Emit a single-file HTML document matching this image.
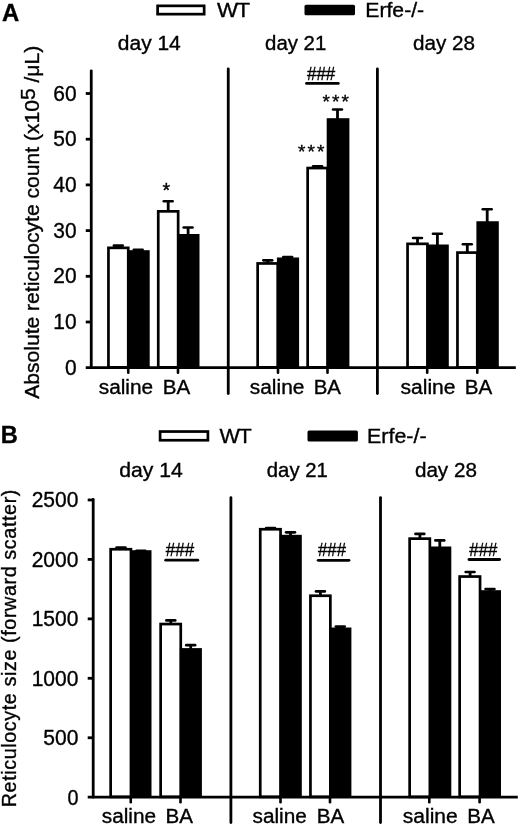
<!DOCTYPE html>
<html><head><meta charset="utf-8"><title>Figure</title>
<style>
html,body{margin:0;padding:0;background:#fff;}
svg{display:block;}
text{font-family:"Liberation Sans",sans-serif;fill:#000;stroke:#000;stroke-width:0.35px;}
</style></head><body>
<svg width="520" height="827" viewBox="0 0 520 827">
<rect x="0" y="0" width="520" height="827" fill="#fff"/>
<rect x="157.60" y="5.85" width="46.55" height="8.30" fill="#fff" stroke="#000" stroke-width="2.7"/>
<rect x="304.5" y="4.7" width="50.5" height="10.6" rx="1.5" fill="#000"/>
<line x1="118.30" y1="247.50" x2="118.30" y2="245.70" stroke="#000" stroke-width="2.8" stroke-linecap="butt"/>
<line x1="113.90" y1="245.70" x2="122.70" y2="245.70" stroke="#000" stroke-width="2.7" stroke-linecap="round"/>
<line x1="138.20" y1="251.20" x2="138.20" y2="249.80" stroke="#000" stroke-width="2.8" stroke-linecap="butt"/>
<line x1="133.80" y1="249.80" x2="142.60" y2="249.80" stroke="#000" stroke-width="2.7" stroke-linecap="round"/>
<rect x="108.45" y="247.85" width="19.80" height="119.50" fill="#fff" stroke="#000" stroke-width="2.7"/>
<rect x="127.40" y="250.20" width="22.30" height="117.50" fill="#000"/>
<line x1="168.20" y1="211.00" x2="168.20" y2="201.25" stroke="#000" stroke-width="2.8" stroke-linecap="butt"/>
<line x1="163.80" y1="201.25" x2="172.60" y2="201.25" stroke="#000" stroke-width="2.7" stroke-linecap="round"/>
<line x1="188.10" y1="235.00" x2="188.10" y2="227.50" stroke="#000" stroke-width="2.8" stroke-linecap="butt"/>
<line x1="183.70" y1="227.50" x2="192.50" y2="227.50" stroke="#000" stroke-width="2.7" stroke-linecap="round"/>
<rect x="158.25" y="211.35" width="19.90" height="156.00" fill="#fff" stroke="#000" stroke-width="2.7"/>
<rect x="177.30" y="234.00" width="22.20" height="133.70" fill="#000"/>
<line x1="267.80" y1="263.10" x2="267.80" y2="260.30" stroke="#000" stroke-width="2.8" stroke-linecap="butt"/>
<line x1="263.40" y1="260.30" x2="272.20" y2="260.30" stroke="#000" stroke-width="2.7" stroke-linecap="round"/>
<line x1="287.70" y1="258.50" x2="287.70" y2="257.10" stroke="#000" stroke-width="2.8" stroke-linecap="butt"/>
<line x1="283.30" y1="257.10" x2="292.10" y2="257.10" stroke="#000" stroke-width="2.7" stroke-linecap="round"/>
<rect x="257.65" y="263.45" width="20.10" height="103.90" fill="#fff" stroke="#000" stroke-width="2.7"/>
<rect x="276.90" y="257.50" width="22.20" height="110.20" fill="#000"/>
<line x1="317.60" y1="167.70" x2="317.60" y2="166.30" stroke="#000" stroke-width="2.8" stroke-linecap="butt"/>
<line x1="313.20" y1="166.30" x2="322.00" y2="166.30" stroke="#000" stroke-width="2.7" stroke-linecap="round"/>
<line x1="337.50" y1="119.20" x2="337.50" y2="109.50" stroke="#000" stroke-width="2.8" stroke-linecap="butt"/>
<line x1="333.10" y1="109.50" x2="341.90" y2="109.50" stroke="#000" stroke-width="2.7" stroke-linecap="round"/>
<rect x="307.65" y="168.05" width="19.90" height="199.30" fill="#fff" stroke="#000" stroke-width="2.7"/>
<rect x="326.70" y="118.20" width="22.70" height="249.50" fill="#000"/>
<line x1="417.50" y1="243.50" x2="417.50" y2="238.00" stroke="#000" stroke-width="2.8" stroke-linecap="butt"/>
<line x1="413.10" y1="238.00" x2="421.90" y2="238.00" stroke="#000" stroke-width="2.7" stroke-linecap="round"/>
<line x1="437.40" y1="245.50" x2="437.40" y2="233.75" stroke="#000" stroke-width="2.8" stroke-linecap="butt"/>
<line x1="433.00" y1="233.75" x2="441.80" y2="233.75" stroke="#000" stroke-width="2.7" stroke-linecap="round"/>
<rect x="407.55" y="243.85" width="19.90" height="123.50" fill="#fff" stroke="#000" stroke-width="2.7"/>
<rect x="426.60" y="244.50" width="22.20" height="123.20" fill="#000"/>
<line x1="467.30" y1="252.25" x2="467.30" y2="244.25" stroke="#000" stroke-width="2.8" stroke-linecap="butt"/>
<line x1="462.90" y1="244.25" x2="471.70" y2="244.25" stroke="#000" stroke-width="2.7" stroke-linecap="round"/>
<line x1="487.20" y1="222.25" x2="487.20" y2="209.25" stroke="#000" stroke-width="2.8" stroke-linecap="butt"/>
<line x1="482.80" y1="209.25" x2="491.60" y2="209.25" stroke="#000" stroke-width="2.7" stroke-linecap="round"/>
<rect x="457.45" y="252.60" width="19.80" height="114.75" fill="#fff" stroke="#000" stroke-width="2.7"/>
<rect x="476.40" y="221.25" width="22.40" height="146.45" fill="#000"/>
<line x1="91.25" y1="70.80" x2="91.25" y2="367.70" stroke="#000" stroke-width="2.8" stroke-linecap="round"/>
<line x1="85.75" y1="367.70" x2="515.80" y2="367.70" stroke="#000" stroke-width="2.8" stroke-linecap="butt"/>
<line x1="85.75" y1="322.00" x2="91.25" y2="322.00" stroke="#000" stroke-width="2.8" stroke-linecap="butt"/>
<line x1="85.75" y1="276.30" x2="91.25" y2="276.30" stroke="#000" stroke-width="2.8" stroke-linecap="butt"/>
<line x1="85.75" y1="230.60" x2="91.25" y2="230.60" stroke="#000" stroke-width="2.8" stroke-linecap="butt"/>
<line x1="85.75" y1="184.90" x2="91.25" y2="184.90" stroke="#000" stroke-width="2.8" stroke-linecap="butt"/>
<line x1="85.75" y1="139.20" x2="91.25" y2="139.20" stroke="#000" stroke-width="2.8" stroke-linecap="butt"/>
<line x1="85.75" y1="93.50" x2="91.25" y2="93.50" stroke="#000" stroke-width="2.8" stroke-linecap="butt"/>
<line x1="228.25" y1="69.00" x2="228.25" y2="393.50" stroke="#000" stroke-width="2.8" stroke-linecap="round"/>
<line x1="377.40" y1="69.00" x2="377.40" y2="393.50" stroke="#000" stroke-width="2.8" stroke-linecap="round"/>
<line x1="128.25" y1="367.70" x2="128.25" y2="372.70" stroke="#000" stroke-width="2.6" stroke-linecap="round"/>
<line x1="178.00" y1="367.70" x2="178.00" y2="372.70" stroke="#000" stroke-width="2.6" stroke-linecap="round"/>
<line x1="278.00" y1="367.70" x2="278.00" y2="372.70" stroke="#000" stroke-width="2.6" stroke-linecap="round"/>
<line x1="327.50" y1="367.70" x2="327.50" y2="372.70" stroke="#000" stroke-width="2.6" stroke-linecap="round"/>
<line x1="427.20" y1="367.70" x2="427.20" y2="372.70" stroke="#000" stroke-width="2.6" stroke-linecap="round"/>
<line x1="477.30" y1="367.70" x2="477.30" y2="372.70" stroke="#000" stroke-width="2.6" stroke-linecap="round"/>
<line x1="306.50" y1="83.40" x2="338.30" y2="83.40" stroke="#000" stroke-width="2.8" stroke-linecap="round"/>
<rect x="160.10" y="431.55" width="47.80" height="8.70" fill="#fff" stroke="#000" stroke-width="2.7"/>
<rect x="307.5" y="430.4" width="50.39999999999998" height="11.000000000000034" rx="1.5" fill="#000"/>
<line x1="121.00" y1="548.90" x2="121.00" y2="547.50" stroke="#000" stroke-width="2.8" stroke-linecap="butt"/>
<line x1="116.60" y1="547.50" x2="125.40" y2="547.50" stroke="#000" stroke-width="2.7" stroke-linecap="round"/>
<line x1="140.90" y1="551.90" x2="140.90" y2="550.90" stroke="#000" stroke-width="2.8" stroke-linecap="butt"/>
<line x1="136.50" y1="550.90" x2="145.30" y2="550.90" stroke="#000" stroke-width="2.7" stroke-linecap="round"/>
<rect x="110.65" y="549.25" width="20.30" height="247.60" fill="#fff" stroke="#000" stroke-width="2.7"/>
<rect x="130.10" y="550.20" width="21.40" height="247.00" fill="#000"/>
<line x1="170.80" y1="623.70" x2="170.80" y2="620.40" stroke="#000" stroke-width="2.8" stroke-linecap="butt"/>
<line x1="166.40" y1="620.40" x2="175.20" y2="620.40" stroke="#000" stroke-width="2.7" stroke-linecap="round"/>
<line x1="190.70" y1="649.10" x2="190.70" y2="645.20" stroke="#000" stroke-width="2.8" stroke-linecap="butt"/>
<line x1="186.30" y1="645.20" x2="195.10" y2="645.20" stroke="#000" stroke-width="2.7" stroke-linecap="round"/>
<rect x="160.65" y="624.05" width="20.10" height="172.80" fill="#fff" stroke="#000" stroke-width="2.7"/>
<rect x="179.90" y="648.10" width="22.00" height="149.10" fill="#000"/>
<line x1="270.60" y1="529.20" x2="270.60" y2="528.20" stroke="#000" stroke-width="2.8" stroke-linecap="butt"/>
<line x1="266.20" y1="528.20" x2="275.00" y2="528.20" stroke="#000" stroke-width="2.7" stroke-linecap="round"/>
<line x1="290.50" y1="535.80" x2="290.50" y2="532.30" stroke="#000" stroke-width="2.8" stroke-linecap="butt"/>
<line x1="286.10" y1="532.30" x2="294.90" y2="532.30" stroke="#000" stroke-width="2.7" stroke-linecap="round"/>
<rect x="260.25" y="529.25" width="20.30" height="267.60" fill="#fff" stroke="#000" stroke-width="2.7"/>
<rect x="279.70" y="534.80" width="22.10" height="262.40" fill="#000"/>
<line x1="320.40" y1="595.40" x2="320.40" y2="591.40" stroke="#000" stroke-width="2.8" stroke-linecap="butt"/>
<line x1="316.00" y1="591.40" x2="324.80" y2="591.40" stroke="#000" stroke-width="2.7" stroke-linecap="round"/>
<line x1="340.30" y1="628.50" x2="340.30" y2="626.60" stroke="#000" stroke-width="2.8" stroke-linecap="butt"/>
<line x1="335.90" y1="626.60" x2="344.70" y2="626.60" stroke="#000" stroke-width="2.7" stroke-linecap="round"/>
<rect x="310.45" y="595.75" width="19.90" height="201.10" fill="#fff" stroke="#000" stroke-width="2.7"/>
<rect x="329.50" y="627.50" width="21.90" height="169.70" fill="#000"/>
<line x1="419.90" y1="538.30" x2="419.90" y2="533.90" stroke="#000" stroke-width="2.8" stroke-linecap="butt"/>
<line x1="415.50" y1="533.90" x2="424.30" y2="533.90" stroke="#000" stroke-width="2.7" stroke-linecap="round"/>
<line x1="439.80" y1="547.50" x2="439.80" y2="540.40" stroke="#000" stroke-width="2.8" stroke-linecap="butt"/>
<line x1="435.40" y1="540.40" x2="444.20" y2="540.40" stroke="#000" stroke-width="2.7" stroke-linecap="round"/>
<rect x="409.65" y="538.65" width="20.20" height="258.20" fill="#fff" stroke="#000" stroke-width="2.7"/>
<rect x="429.00" y="546.50" width="22.30" height="250.70" fill="#000"/>
<line x1="470.10" y1="576.20" x2="470.10" y2="572.00" stroke="#000" stroke-width="2.8" stroke-linecap="butt"/>
<line x1="465.70" y1="572.00" x2="474.50" y2="572.00" stroke="#000" stroke-width="2.7" stroke-linecap="round"/>
<line x1="490.00" y1="591.20" x2="490.00" y2="589.10" stroke="#000" stroke-width="2.8" stroke-linecap="butt"/>
<line x1="485.60" y1="589.10" x2="494.40" y2="589.10" stroke="#000" stroke-width="2.7" stroke-linecap="round"/>
<rect x="459.65" y="576.55" width="20.40" height="220.30" fill="#fff" stroke="#000" stroke-width="2.7"/>
<rect x="479.20" y="590.20" width="21.80" height="207.00" fill="#000"/>
<line x1="93.20" y1="499.35" x2="93.20" y2="797.20" stroke="#000" stroke-width="2.8" stroke-linecap="round"/>
<line x1="87.70" y1="797.20" x2="517.80" y2="797.20" stroke="#000" stroke-width="2.8" stroke-linecap="butt"/>
<line x1="87.70" y1="737.75" x2="93.20" y2="737.75" stroke="#000" stroke-width="2.8" stroke-linecap="butt"/>
<line x1="87.70" y1="678.30" x2="93.20" y2="678.30" stroke="#000" stroke-width="2.8" stroke-linecap="butt"/>
<line x1="87.70" y1="618.85" x2="93.20" y2="618.85" stroke="#000" stroke-width="2.8" stroke-linecap="butt"/>
<line x1="87.70" y1="559.40" x2="93.20" y2="559.40" stroke="#000" stroke-width="2.8" stroke-linecap="butt"/>
<line x1="87.70" y1="499.95" x2="93.20" y2="499.95" stroke="#000" stroke-width="2.8" stroke-linecap="butt"/>
<line x1="230.90" y1="497.55" x2="230.90" y2="822.50" stroke="#000" stroke-width="2.8" stroke-linecap="round"/>
<line x1="380.50" y1="497.55" x2="380.50" y2="822.50" stroke="#000" stroke-width="2.8" stroke-linecap="round"/>
<line x1="130.75" y1="797.20" x2="130.75" y2="802.20" stroke="#000" stroke-width="2.6" stroke-linecap="round"/>
<line x1="180.50" y1="797.20" x2="180.50" y2="802.20" stroke="#000" stroke-width="2.6" stroke-linecap="round"/>
<line x1="280.50" y1="797.20" x2="280.50" y2="802.20" stroke="#000" stroke-width="2.6" stroke-linecap="round"/>
<line x1="330.00" y1="797.20" x2="330.00" y2="802.20" stroke="#000" stroke-width="2.6" stroke-linecap="round"/>
<line x1="429.30" y1="797.20" x2="429.30" y2="802.20" stroke="#000" stroke-width="2.6" stroke-linecap="round"/>
<line x1="479.60" y1="797.20" x2="479.60" y2="802.20" stroke="#000" stroke-width="2.6" stroke-linecap="round"/>
<line x1="165.70" y1="560.20" x2="197.80" y2="560.20" stroke="#000" stroke-width="2.8" stroke-linecap="round"/>
<line x1="318.20" y1="560.30" x2="349.00" y2="560.30" stroke="#000" stroke-width="2.8" stroke-linecap="round"/>
<line x1="469.00" y1="559.50" x2="499.60" y2="559.50" stroke="#000" stroke-width="2.8" stroke-linecap="round"/>
<text transform="translate(2.00,21.30) scale(0.9722,1)" font-size="24.6" font-weight="bold">A</text>
<text transform="translate(216.90,16.50) scale(1.0991,1)" font-size="20.3" font-weight="normal">W<tspan dx="-1.3">T</tspan></text>
<text transform="translate(365.26,16.50) scale(1.0443,1)" font-size="20.3" font-weight="normal">Erfe-/-</text>
<text transform="translate(117.80,49.50) scale(1.0543,1)" font-size="19.9" font-weight="normal">day 14</text>
<text transform="translate(265.05,49.50) scale(1.0250,1)" font-size="19.9" font-weight="normal">day 21</text>
<text transform="translate(413.05,49.50) scale(1.0376,1)" font-size="19.9" font-weight="normal">day 28</text>
<text transform="translate(64.96,374.80) scale(0.9700,1)" font-size="21.6" font-weight="normal">0</text>
<text transform="translate(53.31,329.10) scale(0.9700,1)" font-size="21.6" font-weight="normal">10</text>
<text transform="translate(53.31,283.40) scale(0.9700,1)" font-size="21.6" font-weight="normal">20</text>
<text transform="translate(53.31,237.70) scale(0.9700,1)" font-size="21.6" font-weight="normal">30</text>
<text transform="translate(53.31,192.00) scale(0.9700,1)" font-size="21.6" font-weight="normal">40</text>
<text transform="translate(53.31,146.30) scale(0.9700,1)" font-size="21.6" font-weight="normal">50</text>
<text transform="translate(53.31,100.60) scale(0.9700,1)" font-size="21.6" font-weight="normal">60</text>
<text transform="translate(98.80,393.90) scale(1.0605,1)" font-size="19.6" font-weight="normal">saline</text>
<text transform="translate(162.75,393.90) scale(1.0511,1)" font-size="19.6" font-weight="normal">BA</text>
<text transform="translate(249.80,393.90) scale(1.0654,1)" font-size="19.6" font-weight="normal">saline</text>
<text transform="translate(313.76,393.90) scale(1.0415,1)" font-size="19.6" font-weight="normal">BA</text>
<text transform="translate(400.50,393.90) scale(1.0761,1)" font-size="19.6" font-weight="normal">saline</text>
<text transform="translate(464.85,393.90) scale(1.0511,1)" font-size="19.6" font-weight="normal">BA</text>
<text transform="translate(162.60,196.50) scale(1.0125,1)" font-size="19.5" font-weight="normal" stroke-width="0.65">*</text>
<text transform="translate(322.55,108.00) scale(1.0000,1)" font-size="19" font-weight="normal" letter-spacing="2.056" stroke-width="0.65">***</text>
<text transform="translate(298.05,157.70) scale(1.0000,1)" font-size="19" font-weight="normal" letter-spacing="2.056" stroke-width="0.65">***</text>
<text transform="translate(307.00,79.80) scale(0.9672,1)" font-size="17.5" font-weight="normal" stroke-width="0.65">###</text>
<text transform="translate(38.50,398.80) rotate(-90) scale(1.0241,1)" font-size="20.6" font-weight="normal">Absolute reticulocyte count (x10<tspan dy="-3.5">5</tspan><tspan dy="3.5"> /μL)</tspan></text>
<text transform="translate(0.84,443.30) scale(0.9625,1)" font-size="24.6" font-weight="bold">B</text>
<text transform="translate(219.40,442.50) scale(1.0656,1)" font-size="20.3" font-weight="normal">W<tspan dx="-1.3">T</tspan></text>
<text transform="translate(367.04,442.50) scale(1.0553,1)" font-size="20.3" font-weight="normal">Erfe-/-</text>
<text transform="translate(119.30,477.20) scale(1.0627,1)" font-size="19.9" font-weight="normal">day 14</text>
<text transform="translate(266.80,477.20) scale(1.0208,1)" font-size="19.9" font-weight="normal">day 21</text>
<text transform="translate(414.90,477.20) scale(1.0376,1)" font-size="19.9" font-weight="normal">day 28</text>
<text transform="translate(67.40,804.70) scale(0.9167,1)" font-size="21.6" font-weight="normal">0</text>
<text transform="translate(43.30,745.25) scale(0.9745,1)" font-size="21.6" font-weight="normal">500</text>
<text transform="translate(31.63,685.80) scale(0.9739,1)" font-size="21.6" font-weight="normal">1000</text>
<text transform="translate(31.63,626.35) scale(0.9739,1)" font-size="21.6" font-weight="normal">1500</text>
<text transform="translate(31.63,566.90) scale(0.9739,1)" font-size="21.6" font-weight="normal">2000</text>
<text transform="translate(31.63,507.45) scale(0.9739,1)" font-size="21.6" font-weight="normal">2500</text>
<text transform="translate(101.80,822.60) scale(1.0605,1)" font-size="19.6" font-weight="normal">saline</text>
<text transform="translate(165.55,822.60) scale(1.0511,1)" font-size="19.6" font-weight="normal">BA</text>
<text transform="translate(252.55,822.60) scale(1.0605,1)" font-size="19.6" font-weight="normal">saline</text>
<text transform="translate(316.80,822.60) scale(1.0511,1)" font-size="19.6" font-weight="normal">BA</text>
<text transform="translate(402.80,822.60) scale(1.0722,1)" font-size="19.6" font-weight="normal">saline</text>
<text transform="translate(467.15,822.60) scale(1.0511,1)" font-size="19.6" font-weight="normal">BA</text>
<text transform="translate(165.80,556.30) scale(0.9689,1)" font-size="17.5" font-weight="normal" stroke-width="0.65">###</text>
<text transform="translate(318.05,556.30) scale(0.9554,1)" font-size="17.5" font-weight="normal" stroke-width="0.65">###</text>
<text transform="translate(469.30,555.80) scale(0.9638,1)" font-size="17.5" font-weight="normal" stroke-width="0.65">###</text>
<text transform="translate(16.20,807.30) rotate(-90)" font-size="19.8" letter-spacing="0.582">Reticulocyte size (forward scatter)</text>
</svg>
</body></html>
